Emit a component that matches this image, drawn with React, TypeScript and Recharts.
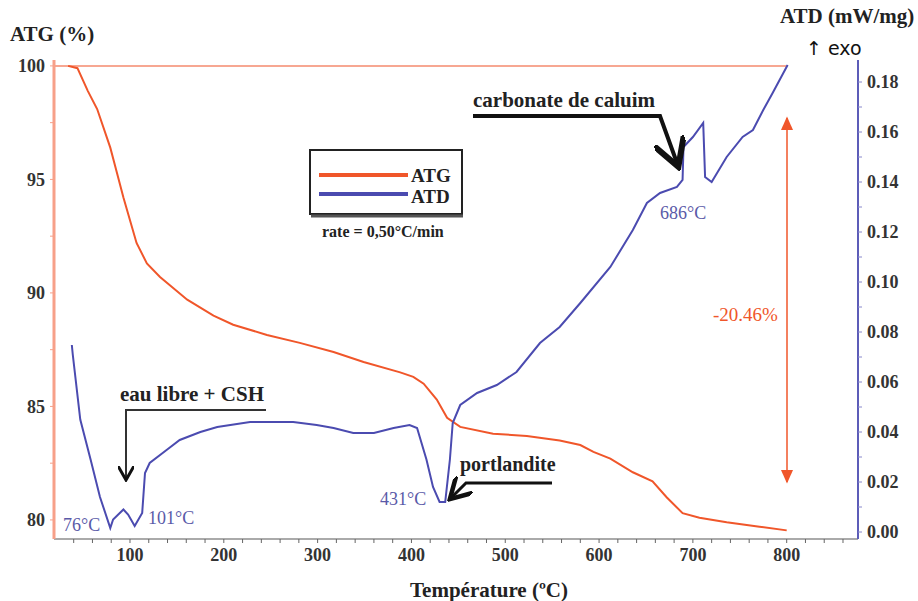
import React from 'react';
import {ComposedChart, Line, ReferenceLine, XAxis, YAxis} from 'recharts';

// ATG (mass loss, %)
const atgTemp = [34, 44, 55, 65, 79, 86, 93, 107, 118, 132, 161, 189, 210, 246, 281, 317, 349, 388, 402, 413, 427, 438, 452, 487, 523, 558, 580, 594, 612, 636, 657, 672, 689, 707, 736, 771, 800];
const atgVal = [100, 99.9, 98.9, 98.1, 96.4, 95.3, 94.2, 92.2, 91.3, 90.7, 89.7, 89.0, 88.6, 88.15, 87.8, 87.4, 86.96, 86.5, 86.3, 86.0, 85.3, 84.5, 84.1, 83.8, 83.7, 83.5, 83.3, 83.0, 82.7, 82.1, 81.7, 81.0, 80.3, 80.1, 79.9, 79.7, 79.54];

// ATD (heat flow, mW/mg)
const atdTemp = [38, 39, 47, 58, 68, 79, 82, 93, 98, 105, 113, 116, 121, 139, 153, 175, 193, 228, 274, 299, 317, 338, 360, 381, 398, 406, 416, 423, 430, 436, 441, 444, 452, 470, 491, 512, 537, 558, 580, 612, 636, 651, 665, 683, 689, 690, 700, 711, 713, 720, 736, 753, 764, 775, 785, 801];
const atdVal = [0.0748, 0.071, 0.045, 0.029, 0.014, 0.0016, 0.005, 0.009, 0.007, 0.0024, 0.0076, 0.0236, 0.0276, 0.0328, 0.0368, 0.040, 0.042, 0.044, 0.044, 0.0428, 0.0416, 0.0396, 0.0396, 0.0416, 0.0428, 0.0416, 0.029, 0.018, 0.012, 0.012, 0.029, 0.0436, 0.0508, 0.0556, 0.0588, 0.064, 0.0756, 0.082, 0.0916, 0.106, 0.1208, 0.1316, 0.1356, 0.138, 0.1408, 0.154, 0.158, 0.1636, 0.142, 0.14, 0.15, 0.158, 0.1608, 0.1688, 0.1756, 0.1868];

const xTicks = [40, 60, 80, 100, 120, 140, 160, 180, 200, 220, 240, 260, 280, 300, 320, 340, 360, 380, 400, 420, 440, 460, 480, 500, 520, 540, 560, 580, 600, 620, 640, 660, 680, 700, 720, 740, 760, 780, 800, 820, 840, 860];
const atgTicks = [80, 82.5, 85, 87.5, 90, 92.5, 95, 97.5, 100];
const atdTicks = [0, 0.01, 0.02, 0.03, 0.04, 0.05, 0.06, 0.07, 0.08, 0.09, 0.1, 0.11, 0.12, 0.13, 0.14, 0.15, 0.16, 0.17, 0.18];

const atgData = atgTemp.map((t, i) => ({t, v: atgVal[i]}));
const atdData = atdTemp.map((t, i) => ({t, v: atdVal[i]}));

const ORANGE = '#f0562a';
const BLUE = '#4b4bb0';
const TEMP_BLUE = '#5a5aa8';
const serif = '"Liberation Serif", "Times New Roman", serif';

const tickStyle = {fontFamily: serif, fontWeight: 700, fontSize: 18, fill: '#333'};

const App = () => {
  return (
    <div style={{position: 'absolute', left: 0, top: 0, width: 918, height: 601, background: '#fff'}}>
      <ComposedChart width={918} height={601} margin={{top: 60, right: 0, bottom: 30, left: 0}}>
        <XAxis
          dataKey="t"
          type="number"
          domain={[19, 876]}
          allowDataOverflow
          ticks={xTicks}
          interval={0}
          tickFormatter={(v: number) => (v % 100 === 0 ? String(v) : '')}
          tick={tickStyle}
          tickSize={4}
          tickMargin={5}
          height={32}
          axisLine={{stroke: '#aaa', strokeWidth: 2}}
          tickLine={{stroke: '#666'}}
        />
        <YAxis
          yAxisId="atg"
          orientation="left"
          width={54}
          domain={[79.16, 100.26]}
          allowDataOverflow
          ticks={atgTicks}
          interval={0}
          tickFormatter={(v: number) => (v % 5 === 0 ? String(v) : '')}
          tick={tickStyle}
          tickSize={4}
          tickMargin={5}
          axisLine={{stroke: '#f7a089', strokeWidth: 3}}
          tickLine={{stroke: '#f7a089'}}
        />
        <YAxis
          yAxisId="atd"
          orientation="right"
          width={60}
          domain={[-0.0028, 0.1888]}
          allowDataOverflow
          ticks={atdTicks}
          interval={0}
          tickFormatter={(v: number) => (Math.round(v * 100) % 2 === 0 ? v.toFixed(2) : '')}
          tick={tickStyle}
          tickSize={4}
          tickMargin={5}
          axisLine={{stroke: '#5c5cb8', strokeWidth: 2}}
          tickLine={{stroke: '#8888cc'}}
        />
        <ReferenceLine
          yAxisId="atg"
          segment={[{x: 19, y: 100}, {x: 800, y: 100}]}
          stroke="#f58a6e"
          strokeWidth={1.5}
        />
        <Line
          yAxisId="atg"
          data={atgData}
          dataKey="v"
          type="linear"
          stroke={ORANGE}
          strokeWidth={2}
          dot={false}
          isAnimationActive={false}
        />
        <Line
          yAxisId="atd"
          data={atdData}
          dataKey="v"
          type="linear"
          stroke={BLUE}
          strokeWidth={2}
          dot={false}
          isAnimationActive={false}
        />
      </ComposedChart>

      <svg width={918} height={601} style={{position: 'absolute', left: 0, top: 0, pointerEvents: 'none'}}>
        <defs>
          <marker id="blk" markerWidth="8" markerHeight="8" refX="6" refY="4" orient="auto" markerUnits="strokeWidth">
            <path d="M0,0 L7,4 L0,8" fill="none" stroke="#111" strokeWidth="1.5"/>
          </marker>
          <marker id="org" markerWidth="10" markerHeight="10" refX="8" refY="5" orient="auto-start-reverse">
            <path d="M0,1 L9,5 L0,9 z" fill={ORANGE}/>
          </marker>
        </defs>

        {/* axis titles */}
        <text x={10} y={41} fontFamily={serif} fontWeight={700} fontSize={21} fill="#222">ATG (%)</text>
        <text x={780} y={23} fontFamily={serif} fontWeight={700} fontSize={21} fill="#222">ATD (mW/mg)</text>
        <text x={806} y={55} fontFamily='"DejaVu Sans", sans-serif' fontSize={19} fill="#111">↑ exo</text>
        <text x={410} y={597} fontFamily={serif} fontWeight={700} fontSize={21} fill="#222">Température (ºC)</text>

        {/* legend */}
        <rect x={310} y={150} width={152} height={64} fill="#fff" stroke="#222" strokeWidth={2}/>
        <line x1={311} y1={216} x2={463} y2={216} stroke="#555" strokeWidth={3}/>
        <line x1={319} y1={175} x2={408} y2={175} stroke={ORANGE} strokeWidth={4}/>
        <line x1={319} y1={194} x2={408} y2={194} stroke={BLUE} strokeWidth={4}/>
        <text x={411} y={182} fontFamily={serif} fontWeight={700} fontSize={19} fill="#222">ATG</text>
        <text x={411} y={203} fontFamily={serif} fontWeight={700} fontSize={19} fill="#222">ATD</text>
        <text x={322} y={237} fontFamily={serif} fontWeight={700} fontSize={16} fill="#222">rate = 0,50°C/min</text>

        {/* carbonate */}
        <text x={473} y={107} fontFamily={serif} fontWeight={700} fontSize={21} fill="#222">carbonate de caluim</text>
        <polyline points="473,116 660,116 677,163" fill="none" stroke="#111" strokeWidth={4} markerEnd="url(#blk)"/>
        <text x={660} y={219} fontFamily={serif} fontSize={18} fill={TEMP_BLUE}>686°C</text>

        {/* eau libre */}
        <text x={120} y={401} fontFamily={serif} fontWeight={700} fontSize={21} fill="#222">eau libre + CSH</text>
        <polyline points="266,410 126,410 126,478" fill="none" stroke="#333" strokeWidth={2} markerEnd="url(#blk)"/>
        <text x={63} y={531} fontFamily={serif} fontSize={18} fill={TEMP_BLUE}>76°C</text>
        <text x={148} y={524} fontFamily={serif} fontSize={18} fill={TEMP_BLUE}>101°C</text>

        {/* portlandite */}
        <text x={460} y={471} fontFamily={serif} fontWeight={700} fontSize={20} fill="#222">portlandite</text>
        <polyline points="552,483 466,483 452,497" fill="none" stroke="#111" strokeWidth={3} markerEnd="url(#blk)"/>
        <text x={380} y={505} fontFamily={serif} fontSize={18} fill={TEMP_BLUE}>431°C</text>

        {/* mass loss */}
        <line x1={787} y1={118} x2={787} y2={482} stroke={ORANGE} strokeWidth={1.5} markerStart="url(#org)" markerEnd="url(#org)"/>
        <text x={713} y={321} fontFamily={serif} fontSize={19} fill={ORANGE}>-20.46%</text>
      </svg>
    </div>
  );
};

export default App;
